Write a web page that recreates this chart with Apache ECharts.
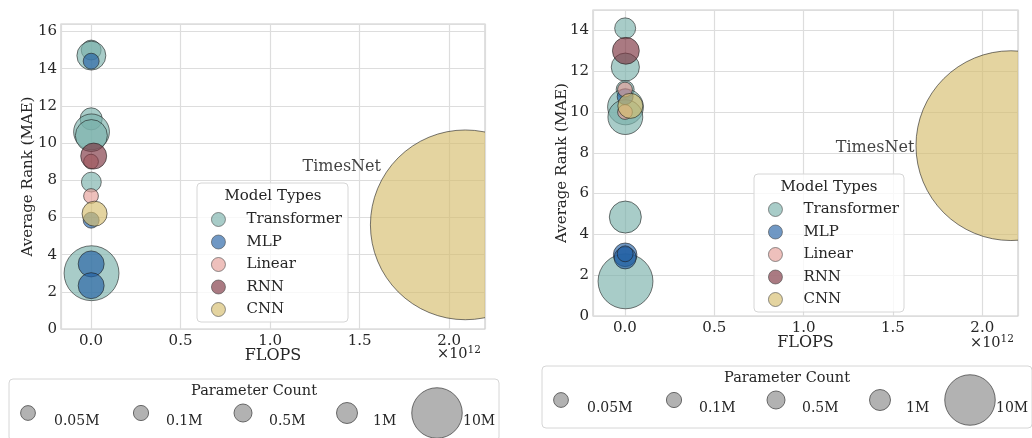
<!DOCTYPE html>
<html><head><meta charset="utf-8">
<script src="https://cdn.jsdelivr.net/npm/echarts@6/dist/echarts.min.js"></script>
<style>html,body{margin:0;padding:0;background:#fff}#c{width:1032px;height:438px}</style>
</head><body><div id="c"></div>
<script>
// ---------------- DATA ----------------
const modelTypes = ['Transformer', 'MLP', 'Linear', 'RNN', 'CNN'];

// Left panel: one entry per model
const leftType   = ['Transformer','Transformer','MLP','Transformer','Transformer','Transformer','RNN','Linear','Transformer','Linear','CNN','MLP','Transformer','MLP','MLP','CNN'];
const leftFlops  = [1e9, 2e9, 1e9, 1e9, 3e9, 2e9, 1.5e10, 1e8, 2e9, 1e8, 2e10, 1e9, 3e9, 1e9, 1e9, 2.09e12];
const leftRank   = [15.0, 14.7, 14.4, 11.3, 10.6, 10.4, 9.3, 9.0, 7.9, 7.15, 6.2, 5.85, 3.0, 3.5, 2.33, 5.6];
const leftParams = [0.8, 2.7, 0.2, 1.2, 4.6, 3.5, 2.0, 0.05, 0.8, 0.05, 1.8, 0.2, 12, 2.0, 2.0, 153];

// Right panel
const rightType   = ['Transformer','RNN','Transformer','Transformer','Linear','MLP','Transformer','Transformer','CNN','Linear','Transformer','MLP','MLP','MLP','Transformer','CNN'];
const rightFlops  = [1e9, 5e9, 2e9, 1e9, 1e8, 1e9, 3e9, 2e9, 3e10, 1e8, 2e9, 1e9, 1e9, 1e9, 3e9, 2.16e12];
const rightRank   = [14.1, 13.0, 12.2, 11.1, 11.1, 10.75, 10.25, 9.75, 10.3, 10.0, 4.85, 3.0, 2.85, 3.05, 1.7, 8.35];
const rightParams = [1.0, 2.2, 2.5, 0.5, 0.05, 0.2, 4.6, 4.3, 1.8, 0.05, 3.5, 1.5, 1.2, 0.2, 12, 153];

// Annotation
const annotText = 'TimesNet';
const leftAnnot  = [1.40e12, 8.73];
const rightAnnot = [1.40e12, 8.26];

// Axis
const xTickScale = 1e12;
const leftXMin = -0.1675e12, rightXMin = -0.179e12, xMax = 2.2e12;
const leftYMax = 16.4, rightYMax = 15.0;

// Size legend
const sizeLegendValues = [0.05, 0.1, 0.5, 1, 10];
const sizeLegendLabels = ['0.05M', '0.1M', '0.5M', '1M', '10M'];

// ---------------- STYLE ----------------
const FONT = 'DejaVu Serif';
const TXT = '#262626';
const colors = {
  Transformer: '#79b1aa',
  MLP: '#2361a4',
  Linear: '#e59e98',
  RNN: '#7c323f',
  CNN: '#d5bd6d'
};
const OPA = 0.65;
const EDGE = '#1a1a1a';
function sizeOf(p) { return Math.sqrt(207 + 234 * p); }

const grids = [
  { left: 61, top: 24, width: 424, height: 305, show: true, borderColor: '#cccccc', borderWidth: 1.2, backgroundColor: '#fff' },
  { left: 593, top: 10, width: 425, height: 306, show: true, borderColor: '#cccccc', borderWidth: 1.2, backgroundColor: '#fff' }
];

function xAxis(gi, min) {
  return {
    type: 'value', gridIndex: gi, min: min, max: xMax, splitNumber: 5,
    name: 'FLOPS', nameLocation: 'middle', nameGap: 19, nameMoveOverlap: false,
    nameTextStyle: { fontFamily: FONT, fontSize: 16, color: TXT },
    axisLine: { show: false }, axisTick: { show: false },
    axisLabel: { fontFamily: FONT, fontSize: 15, color: TXT, margin: 5, showMinLabel: false, showMaxLabel: false,
      formatter: v => (v / xTickScale).toFixed(1) },
    splitLine: { show: true, lineStyle: { color: '#dddddd', width: 1.2 } }
  };
}
function yAxis(gi, max, gap) {
  return {
    type: 'value', gridIndex: gi, min: 0, max: max, interval: 2,
    name: 'Average Rank (MAE)', nameLocation: 'middle', nameGap: gap, nameMoveOverlap: false,
    nameTextStyle: { fontFamily: FONT, fontSize: 15, color: TXT },
    axisLine: { show: false }, axisTick: { show: false },
    axisLabel: { fontFamily: FONT, fontSize: 15, color: TXT, margin: 4, showMaxLabel: false },
    splitLine: { show: true, lineStyle: { color: '#dddddd', width: 1.2 } }
  };
}

function buildSeries(gi, types, flops, ranks, params) {
  return modelTypes.map(t => {
    const data = [];
    for (let i = 0; i < types.length; i++) {
      if (types[i] === t) data.push([flops[i], ranks[i], params[i]]);
    }
    return {
      type: 'custom', name: t, xAxisIndex: gi, yAxisIndex: gi, data: data,
      encode: { x: 0, y: 1 }, clip: true, z: 2,
      itemStyle: { color: colors[t], opacity: OPA, borderColor: EDGE, borderWidth: 0.9 },
      renderItem: (params, api) => {
        const c = api.coord([api.value(0), api.value(1)]);
        return {
          type: 'circle',
          shape: { cx: c[0], cy: c[1], r: sizeOf(api.value(2)) / 2 },
          style: { fill: colors[t], stroke: EDGE, lineWidth: 0.9, opacity: OPA }
        };
      },
      emphasis: { disabled: true }, animation: false
    };
  });
}
function annotSeries(gi, pos) {
  return {
    type: 'scatter', name: '_annot' + gi, xAxisIndex: gi, yAxisIndex: gi,
    data: [pos], symbolSize: 0, silent: true, animation: false, z: 6,
    label: { show: true, position: 'inside', formatter: annotText, fontFamily: FONT, fontSize: 16, color: '#111' }
  };
}

function legendFor(left, top) {
  return {
    data: modelTypes, orient: 'vertical', left: left, top: top, padding: 0,
    icon: 'circle', itemWidth: 14, itemHeight: 14, itemGap: 7.5, z: 20,
    selectedMode: false,
    itemStyle: { borderColor: '#444', borderWidth: 0.9, opacity: OPA },
    textStyle: { fontFamily: FONT, fontSize: 15, color: TXT, lineHeight: 14, padding: [0, 0, 0, 16] }
  };
}

const graphics = [];
function legendBox(x, y, w, h, title, tx, ty, fs) {
  graphics.push({ type: 'rect', z: 10, shape: { x: x, y: y, width: w, height: h, r: 4 },
    style: { fill: 'rgba(255,255,255,0.8)', stroke: '#d6d6d6', lineWidth: 1 } });
  graphics.push({ type: 'text', z: 11, x: tx, y: ty,
    style: { text: title, fontFamily: FONT, fontSize: fs, fill: TXT, align: 'center', verticalAlign: 'middle' } });
}
legendBox(197, 183, 151, 139, 'Model Types', 273, 196, 15);
legendBox(754, 174, 150, 138, 'Model Types', 829, 187, 15);

function sizeLegend(dx, dy) {
  legendBox(9 + dx, 379 + dy, 490, 62, 'Parameter Count', 254 + dx, 391 + dy, 14.5);
  const cxs = [28, 141, 243, 347, 437];
  const lxs = [54, 166, 269, 373, 463];
  sizeLegendValues.forEach((v, i) => {
    graphics.push({ type: 'circle', z: 12, shape: { cx: cxs[i] + dx, cy: 413 + dy, r: sizeOf(v) / 2 },
      style: { fill: '#b2b2b2', stroke: '#5a5a5a', lineWidth: 0.9 } });
    graphics.push({ type: 'text', z: 13, x: lxs[i] + dx, y: 421 + dy,
      style: { text: sizeLegendLabels[i], fontFamily: FONT, fontSize: 14, fill: TXT, align: 'left', verticalAlign: 'middle' } });
  });
}
sizeLegend(0, 0);
sizeLegend(533, -13);

function expText(x, y) {
  graphics.push({ type: 'text', z: 11, x: x, y: y,
    style: { text: '{a|×10}{b|12}', align: 'left', verticalAlign: 'middle',
      rich: { a: { fontFamily: FONT, fontSize: 14.5, fill: TXT, color: TXT },
              b: { fontFamily: FONT, fontSize: 10.5, fill: TXT, color: TXT, verticalAlign: 'top', padding: [0, 0, 8, 0] } } } });
}
expText(437, 354);
expText(970, 343);

const option = {
  backgroundColor: '#fff',
  animation: false,
  grid: grids,
  xAxis: [xAxis(0, leftXMin), xAxis(1, rightXMin)],
  yAxis: [yAxis(0, leftYMax, 25), yAxis(1, rightYMax, 23)],
  legend: [legendFor(211, 212), legendFor(768, 202)],
  series: [
    ...buildSeries(0, leftType, leftFlops, leftRank, leftParams),
    ...buildSeries(1, rightType, rightFlops, rightRank, rightParams),
    annotSeries(0, leftAnnot),
    annotSeries(1, rightAnnot)
  ],
  graphic: graphics
};

const chart = echarts.init(document.getElementById('c'), null, { renderer: 'canvas' });
chart.setOption(option);
</script>
</body></html>
